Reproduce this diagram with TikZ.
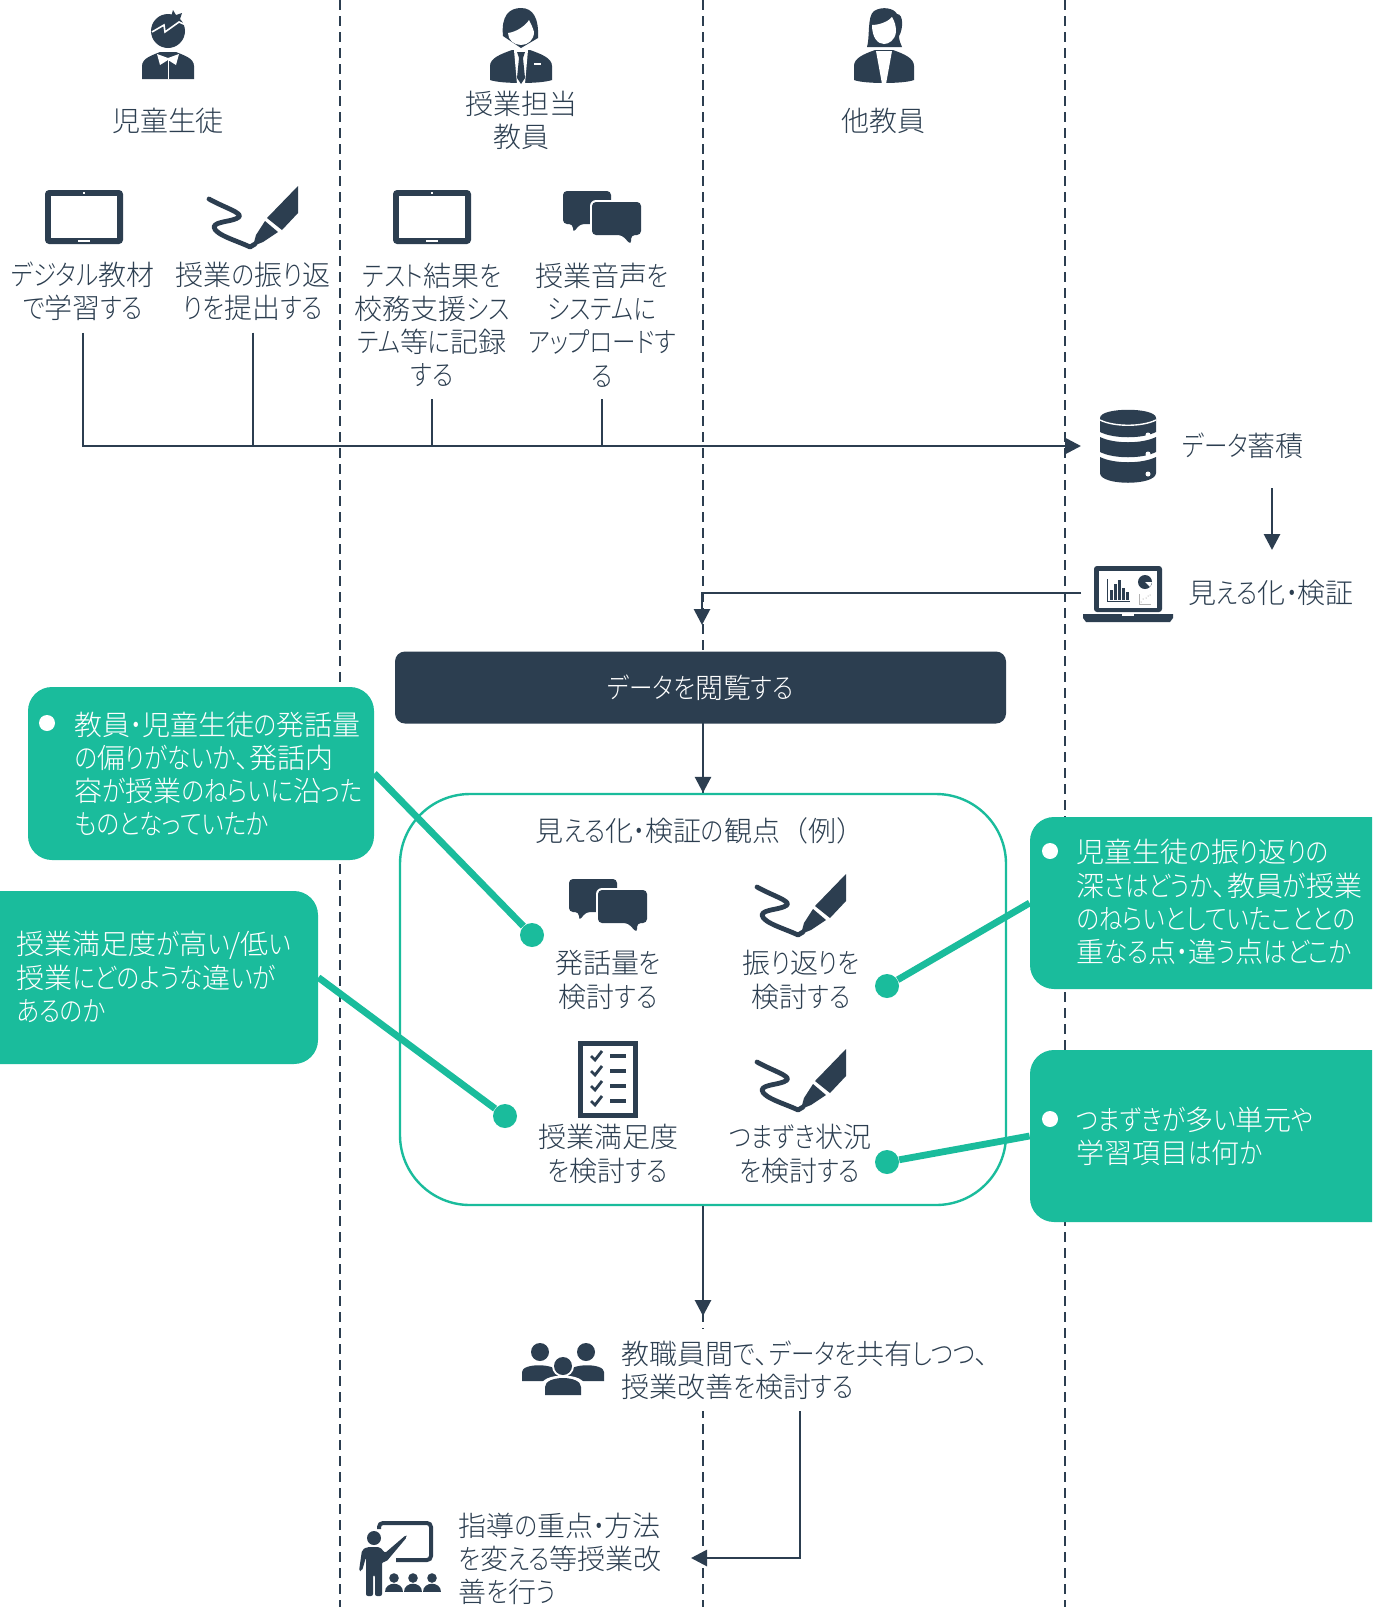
\documentclass[tikz,border=0pt]{standalone}
\usepackage{fontspec}
\setmainfont[RawFeature={+palt}]{Noto Sans CJK JP Light}
\newfontfamily\kanafont[RawFeature={+palt}, FakeStretch=0.84]{Noto Sans CJK JP Light}
\newfontfamily\widefont{Noto Sans CJK JP Light}
\XeTeXinterchartokenstate=1
\newXeTeXintercharclass\kanaclass
\count255="3041
\loop
    \XeTeXcharclass\count255=\kanaclass
    \advance\count255 by 1
\ifnum\count255<"30FF \repeat
\XeTeXinterchartoks 0 \kanaclass={\kanafont}
\XeTeXinterchartoks 4095 \kanaclass={\kanafont}
\XeTeXinterchartoks \kanaclass 0={\rmfamily}
\XeTeXinterchartoks \kanaclass 4095={\rmfamily}
\usetikzlibrary{
    arrows.meta,
    calc,
    positioning
}
\definecolor{slate}{HTML}{2C3E50}
\definecolor{mint}{HTML}{1ABC9C}
\tikzset{
    flow/.style={draw=slate, line width=1.4pt, -{Triangle[length=8pt, width=8pt]}},
    tick/.style={draw=slate, line width=1.4pt},
    lane/.style={draw=slate, line width=1.2pt, dash pattern=on 5.2pt off 2.8pt},
    label/.style={text=slate, font=\fontsize{14}{16.6}\selectfont, align=center, inner sep=6pt},
    bubble/.style={fill=mint, rounded corners=12pt, inner sep=0pt},
    bubbletext/.style={text=white, font=\fontsize{14}{16.6}\selectfont, align=left, anchor=west, inner sep=0pt},
    bullet/.style={circle, fill=white, minimum size=8pt, inner sep=0pt},
    dot/.style={circle, fill=mint, minimum size=12pt, inner sep=0pt},
    lead/.style={draw=mint, line width=3.4pt},
    pics/tablet/.style={code={
        \fill[slate, rounded corners=2pt] (-39,-27) rectangle (39,27);
        \fill[white] (-33,-21) rectangle (33,21);
        \fill[white] (-1,-25) rectangle (1,-23);
        \fill[white] (-6,23) rectangle (6,25);
    }},
    pics/penmark/.style={code={
        \draw[slate, line width=2.4pt, line cap=round, line join=round]
            (-44,-18) .. controls (-30,-10) and (-10,-4) .. (-14,0)
            .. controls (-20,5) and (-38,4) .. (-39,10)
            .. controls (-38,18) and (-15,24) .. (-3,30) -- (2,27);
        \fill[slate] (45,-31) -- (45,-4) -- (29,13) -- (14,1) -- cycle;
        \fill[slate] (12,4) -- (25,15) -- (10,25) -- (0,29) -- (3,18) -- cycle;
    }},
    pics/chat/.style={code={
        \fill[slate, rounded corners=2pt] (-39,-27) -- (9,-27) -- (9,6) -- (-22,6) -- (-29,15) -- (-29,6) -- (-39,6) -- cycle;
        \fill[white, rounded corners=3pt] (-12,-18) rectangle (41,19);
        \fill[slate, rounded corners=2pt] (-10,-16) -- (39,-16) -- (39,17) -- (29,17) -- (29,27) -- (20,17) -- (-10,17) -- cycle;
    }},
    pics/dbstack/.style={code={
        \fill[slate] (-28,-28) .. controls (-28,-39) and (28,-39) .. (28,-28)
            -- (28,-14) .. controls (14,-7) and (-14,-7) .. (-28,-14) -- cycle;
        \fill[slate] (-28,-9) .. controls (-14,-2) and (14,-2) .. (28,-9)
            -- (28,6) .. controls (14,13) and (-14,13) .. (-28,6) -- cycle;
        \fill[slate] (-28,11) .. controls (-14,18) and (14,18) .. (28,11)
            -- (28,27) .. controls (28,40) and (-28,40) .. (-28,27) -- cycle;
        \draw[white, line width=.7pt] (-28,-26) .. controls (-14,-19) and (14,-19) .. (28,-26);
        \foreach \y in {-11, 8, 28} {
            \fill[white] (20,\y) circle (2.5);
        }
    }},
    pics/laptop/.style={code={
        \fill[slate, rounded corners=1.5pt] (-34,-27) rectangle (34,19);
        \fill[white] (-29,-22) rectangle (29,15);
        \fill[slate] (-45,21) -- (45,21) -- (45,25) -- (42,29) -- (-42,29) -- (-45,25) -- cycle;
        \fill[white] (-6,21) rectangle (6,23);
        \draw[slate, line width=.5pt] (-21,-14) -- (-21,8) -- (2,8);
        \foreach \x/\h in {-18/10, -14/16, -10/20, -6/12, -2/8} {
            \fill[slate] (\x,7) rectangle ++(2.6,-\h);
        }
        \fill[slate] (17,-11) circle (7);
        \fill[white] (17,-11) -- (24,-11) -- (22,-6) -- cycle;
        \draw[gray!60, line width=.3pt] (11,1) -- (11,11) -- (23,11);
        \foreach \x/\y in {13/9, 15/6, 18/5, 20/3, 22/2} {
            \fill[gray] (\x,\y) circle (.5);
        }
    }},
    pics/checks/.style={code={
        \fill[slate] (-30,-38) rectangle (30,39);
        \fill[white] (-25,-33) rectangle (25,34);
        \foreach \y in {-23, -8, 7, 22} {
            \draw[slate, line width=1.4pt] (-17,\y) -- (-13,{\y+4}) -- (-6,{\y-5});
            \fill[slate] (2,{\y-2}) rectangle (18,{\y+2});
        }
    }},
    pics/staff/.style={code={
        \fill[slate] (-23,-17) circle (9);
        \fill[slate] (23,-17) circle (9);
        \fill[slate] (-41,12) -- (-41,3) .. controls (-41,-6) and (-8,-6) .. (-5,3) -- (-5,12) -- cycle;
        \fill[slate] (41,12) -- (41,3) .. controls (41,-6) and (8,-6) .. (5,3) -- (5,12) -- cycle;
        \fill[white] (-22,27) -- (-22,17) .. controls (-22,3) and (22,3) .. (22,17) -- (22,27) -- cycle;
        \fill[white] (0,-3) circle (11);
        \fill[slate] (0,-3) circle (9);
        \fill[slate] (-18,26) -- (-18,18) .. controls (-18,6) and (18,6) .. (18,18) -- (18,26) -- cycle;
    }},
    pics/lecture/.style={code={
        \draw[slate, line width=2pt, rounded corners=2pt] (-21,-30) -- (-21,-36) -- (31,-36) -- (31,1) -- (-4,1);
        \fill[slate] (-26,-21) circle (7);
        \fill[slate, rounded corners=1pt] (-41,12) -- (-38,-9) -- (-33,-12) -- (-20,-12) -- (-15,-6)
            -- (6,-24) -- (7,-22) -- (-14,3) -- (-18,3) -- (-18,37) -- (-25,37) -- (-25,16) -- (-27,16) -- (-27,37)
            -- (-34,37) -- (-34,-2) -- (-38,12) -- cycle;
        \foreach \x in {-6, 13, 32} {
            \fill[slate] (\x,19) circle (4.8);
            \fill[slate] ({\x-9},33) .. controls ({\x-9},22) and ({\x+9},22) .. ({\x+9},33) -- cycle;
        }
    }},
    pics/pupil/.style={code={
        \fill[slate] (0,-15) ellipse (17 and 17);
        \fill[slate] (3,-29) -- (5,-36) -- (8,-31) -- (14,-33) -- (12,-27) -- cycle;
        \draw[white, line width=.8pt] (-16,-14) -- (-4,-21) -- (-3,-14) -- (11,-24) -- (18,-21);
        \fill[slate] (-26,33) -- (-26,20) .. controls (-26,12) and (-15,9) .. (-8,6) -- (8,6) .. controls (15,9) and (26,12) .. (26,20) -- (26,33) -- cycle;
        \fill[white] (-11,8) -- (0,12) -- (11,8) -- (8,19) -- (0,14) -- (-8,19) -- cycle;
        \draw[white, line width=.5pt] (0,14) -- (0,33);
    }},
    pics/teacher/.style={code={
        \fill[slate] (-31,34) -- (-31,20) .. controls (-31,12) and (-20,8) .. (-9,4) -- (9,4) .. controls (20,8) and (31,12) .. (31,20)
            -- (31,34) .. controls (20,38) and (-20,38) .. (-31,34) -- cycle;
        \fill[white] (-7,4) -- (7,4) -- (4,38) -- (-4,38) -- cycle;
        \fill[slate] (-4,6) -- (4,6) -- (2,12) -- (4,32) -- (0,38) -- (-4,32) -- (-2,12) -- cycle;
        \fill[white] (13,17) rectangle (20,19);
        \fill[slate] (-18,-10) .. controls (-20,-30) and (-12,-38) .. (0,-38) .. controls (12,-38) and (18,-28) .. (17,-8) -- (0,2) -- cycle;
        \fill[white] (-13,-13) .. controls (-4,-14) and (5,-21) .. (8,-26) .. controls (10,-22) and (12,-18) .. (13,-14)
            .. controls (13,-6) and (7,-1) .. (0,-1) .. controls (-7,-1) and (-13,-6) .. (-13,-13) -- cycle;
    }},
    pics/woman/.style={code={
        \fill[slate] (-30,34) -- (-30,20) .. controls (-30,12) and (-20,8) .. (-9,4) -- (9,4) .. controls (20,8) and (30,12) .. (30,20)
            -- (30,34) .. controls (20,38) and (-20,38) .. (-30,34) -- cycle;
        \fill[white] (-8,5) -- (8,5) -- (2,38) -- (-2,38) -- cycle;
        \fill[slate] (-17,1) .. controls (-14,-8) and (-17,-30) .. (-10,-35) .. controls (-2,-40) and (10,-38) .. (13,-32)
            .. controls (20,-32) and (19,-16) .. (15,-10) .. controls (15,-5) and (17,-2) .. (18,1) -- cycle;
        \fill[white] (-12,-21) .. controls (-4,-21) and (5,-25) .. (8,-29) .. controls (11,-24) and (12,-20) .. (12,-14)
            .. controls (11,-6) and (5,-2) .. (0,-2) .. controls (-6,-2) and (-12,-8) .. (-12,-21) -- cycle;
    }}
}

\begin{document}
\begin{tikzpicture}[x=0.5pt, y=-0.5pt]
    \useasboundingbox (0,0) rectangle (1372,1607);
    \clip (0,0) rectangle (1372,1607);
    \fill[white] (0,0) rectangle (1372,1607);

    \draw[lane] (340,0) -- (340,1607);
    \draw[lane] (703,0) -- (703,1607);
    \draw[lane] (1065,0) -- (1065,1607);

    \pic at (168,46) {pupil};
    \pic at (521,46) {teacher};
    \pic at (884,46) {woman};
    \node[label] (lpupil) at (168,121) {児童生徒};
    \node[label] (lteacher) at (521,120) {授業担当\\教員};
    \node[label] (lwoman) at (883,121) {他教員};

    \pic at (84,217) {tablet};
    \pic at (253,217) {penmark};
    \pic at (432,217) {tablet};
    \pic at (602,218) {chat};
    \node[label] (tdig) at (83,291) {デジタル教材\\で学習する};
    \node[label] (tpen) at (253,291) {授業の振り返\\りを提出する};
    \node[label] (tmark) at (432,325) {テスト結果を\\校務支援シス\\テム等に記録\\する};
    \node[label] (tvoice) at (602,325) {授業音声を\\システムに\\アップロードす\\る};

    \coordinate (bustip) at (1081,446);
    \draw[tick] (tpen.south) -- (tpen.south |- bustip);
    \draw[tick] (tmark.south) -- (tmark.south |- bustip);
    \draw[tick] (tvoice.south) -- (tvoice.south |- bustip);
    \draw[flow] (tdig.south) |- (bustip);

    \pic at (1128,446) {dbstack};
    \node[label] (tstore) at (1243,446) {データ蓄積};
    \coordinate (storeout) at (1272,488);
    \coordinate (lapin) at (1272,550);
    \draw[flow] (storeout) -- (lapin);

    \pic at (1128,593) {laptop};
    \node[label] (tlap) at (1271,593) {見える化・検証};
    \coordinate (lapout) at (1081,593);
    \coordinate (browsetip) at (702,625);
    \draw[flow] (lapout) -| (browsetip);

    \node[fill=slate, rounded corners=5pt, minimum width=305.5pt, minimum height=36pt, text=white,
        font=\fontsize{14}{16.6}\selectfont] (browse) at (700.5,687.5) {データを閲覧する};

    \node[draw=mint, fill=white, line width=1.2pt, rounded corners=35pt, minimum width=303pt,
        minimum height=205.5pt, inner sep=0pt] (frame) at (703,999.5) {};
    \draw[flow] (browse.south -| frame.north) -- (frame.north);

    \node[label] (tframe) at (700,831) {見える化・検証の観点{\widefont（}例{\widefont）}};
    \pic at (608,906) {chat};
    \pic at (801,905) {penmark};
    \pic at (608,1079) {checks};
    \pic at (801,1080) {penmark};
    \node[label] (tvol) at (608,980) {発話量を\\検討する};
    \node[label] (trefl) at (801,980) {振り返りを\\検討する};
    \node[label] (tsat) at (608,1154) {授業満足度\\を検討する};
    \node[label] (tstum) at (800,1154) {つまずき状況\\を検討する};

    \node[bubble, minimum width=173pt, minimum height=86.5pt] (bubvol) at (201,773.5) {};
    \node[bubble, minimum width=179pt, minimum height=86.5pt] (bubsat) at (139,977.5) {};
    \node[bubble, minimum width=201pt, minimum height=86pt] (bubrefl) at (1231,903) {};
    \node[bubble, minimum width=201pt, minimum height=86pt] (bubstum) at (1231,1136) {};

    \node[dot] (dvol) at (532,935) {};
    \node[dot] (dsat) at (505,1116) {};
    \node[dot] (drefl) at (887,986) {};
    \node[dot] (dstum) at (887,1162) {};
    \draw[lead] (bubvol.east) -- (dvol);
    \draw[lead] (bubsat.east) -- (dsat);
    \draw[lead] (bubrefl.west) -- (drefl);
    \draw[lead] (bubstum.west) -- (dstum);

    \node[bullet] (bvol) at (47,723) {};
    \node[bullet] (brefl) at (1050,851) {};
    \node[bullet] (bstum) at (1050,1119) {};
    \node[bubbletext] (xvol) at (74,774) {教員・児童生徒の発話量\\の偏りがないか、発話内\\容が授業のねらいに沿った\\ものとなっていたか};
    \node[bubbletext] (xsat) at (16,977) {授業満足度が高い/低い\\授業にどのような違いが\\あるのか};
    \node[bubbletext] (xrefl) at (1076,902) {児童生徒の振り返りの\\深さはどうか、教員が授業\\のねらいとしていたこととの\\重なる点・違う点はどこか};
    \node[bubbletext] (xstum) at (1076,1136) {つまずきが多い単元や\\学習項目は何か};

    \coordinate (sharetip) at (703,1316);
    \draw[flow] (frame.south) -- (sharetip);

    \pic at (563,1369) {staff};
    \node[label, fill=white, anchor=west, align=left, inner sep=0pt, minimum height=41pt] (tshare) at (621,1370) {教職員間で、データを共有しつつ、\\授業改善を検討する};
    \coordinate (shareturn) at (800,1558);
    \coordinate (plantip) at (691,1558);
    \draw[flow] (tshare.south -| shareturn) -- (shareturn) -- (plantip);

    \pic at (400,1559) {lecture};
    \node[label, anchor=west, align=left, inner sep=0pt] (tplan) at (458,1559) {指導の重点・方法\\を変える等授業改\\善を行う};
\end{tikzpicture}
\end{document}
